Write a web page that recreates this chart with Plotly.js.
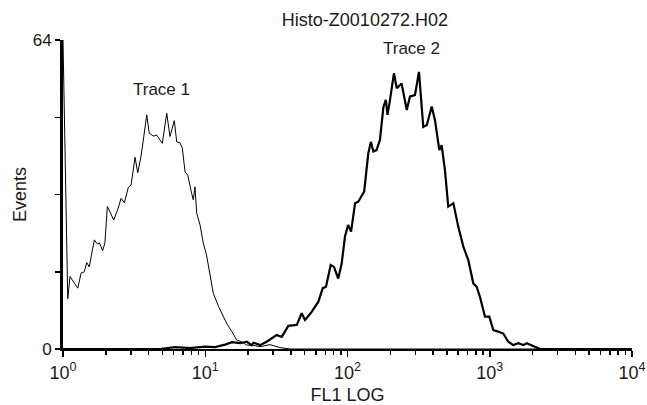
<!DOCTYPE html>
<html>
<head>
<meta charset="utf-8">
<script src="https://cdn.plot.ly/plotly-3.0.1.min.js"></script>
<style>
  html, body { margin: 0; padding: 0; background: #fff; }
  #chart { width: 647px; height: 405px; }
</style>
</head>
<body>
<div id="chart"></div>
<script>
// ---- Data ----
const trace1X = [1, 1.08, 1.12, 1.18, 1.27, 1.34, 1.41, 1.47, 1.53, 1.66, 1.75, 1.80, 1.90, 1.97, 2.05, 2.14, 2.27, 2.42, 2.56, 2.70, 2.88, 3.01, 3.21, 3.35, 3.53, 3.67, 3.88, 4.04, 4.31, 4.56, 4.81, 4.99, 5.36, 5.65, 6.06, 6.30, 6.64, 6.90, 7.21, 7.53, 8.03, 8.24, 8.47, 8.71, 9.19, 9.69, 10.2, 10.8, 11.4, 12.4, 13.1, 14.2, 15.4, 16.6, 18.0, 19.6, 21.2, 24.3, 28.5, 33.5, 39.4, 10000];
const trace1Y = [64, 10.4, 15.0, 13.9, 12.6, 15.7, 16.0, 17.9, 17.0, 22.6, 21.7, 22.0, 20.4, 21.9, 29.5, 28.4, 26.7, 28.8, 31.2, 30.3, 33.5, 34.0, 39.7, 36.5, 39.8, 43.3, 48.5, 44.7, 44.1, 44.3, 43.3, 42.6, 48.8, 44.0, 47.3, 42.9, 42.7, 41.6, 36.7, 36.0, 32.2, 30.9, 33.6, 28.1, 25.7, 21.9, 19.5, 15.7, 11.5, 8.8, 7.4, 5.2, 3.6, 1.9, 1.5, 0.8, 0.8, 0.5, 0.9, 0.3, 0, 0];

const trace2X = [1, 4.81, 6.13, 7.81, 9.96, 11.7, 13.8, 15.4, 17.6, 19.6, 21.2, 21.8, 24.3, 27.0, 31.8, 34.5, 38.4, 44.0, 47.6, 50.3, 56.0, 62.4, 67.0, 70.6, 76.2, 80.4, 86.1, 91.0, 96.0, 101, 106, 113, 119, 131, 140, 146, 152, 160, 169, 179, 186, 191, 199, 212, 222, 240, 261, 275, 298, 318, 341, 361, 391, 412, 442, 459, 484, 511, 555, 601, 652, 707, 766, 809, 853, 926, 993, 1059, 1148, 1245, 1349, 1465, 1588, 1722, 1820, 1972, 2256, 10000];
const trace2Y = [0, 0, 0.4, 0.2, 0.5, 0.4, 0.9, 1.4, 1.2, 1.5, 0.8, 1.3, 0.8, 1.5, 2.9, 2.5, 4.8, 5.0, 7.4, 6.0, 7.7, 9.8, 12.6, 12.9, 17.4, 17.0, 14.6, 17.7, 23.3, 25.7, 24.3, 30.2, 30.5, 32.6, 40.5, 42.9, 40.9, 41.2, 43.3, 50.2, 51.6, 48.5, 51.6, 57.1, 54.0, 55.0, 49.5, 52.3, 52.6, 57.4, 46.0, 46.4, 50.2, 47.4, 41.2, 42.2, 37.1, 29.5, 30.2, 25.3, 21.2, 18.4, 13.6, 12.9, 10.8, 6.7, 6.7, 3.9, 3.6, 3.2, 1.5, 0.8, 1.2, 0.8, 1.2, 0.8, 0, 0];

const xTickVals = [1, 10, 100, 1000, 10000];
const xTickText = ['10<sup>0</sup>', '10<sup>1</sup>', '10<sup>2</sup>', '10<sup>3</sup>', '10<sup>4</sup>'];
const yTickVals = [0, 16, 32, 48, 64];
const yTickText = ['0', '', '', '', '64'];

const chartTitle = 'Histo-Z0010272.H02';
const xTitle = 'FL1 LOG';
const yTitle = 'Events';
const label1 = 'Trace 1';
const label2 = 'Trace 2';

// ---- Chart ----
const FONT = '"Liberation Sans", Arial, Helvetica, sans-serif';
const INK = '#1a1a1a';

const traces = [
  { x: trace1X, y: trace1Y, type: 'scatter', mode: 'lines', name: label1,
    line: { color: '#000', width: 1 }, hoverinfo: 'skip' },
  { x: trace2X, y: trace2Y, type: 'scatter', mode: 'lines', name: label2,
    line: { color: '#000', width: 2.2 }, hoverinfo: 'skip' }
];

const layout = {
  width: 647, height: 405,
  margin: { l: 63, r: 15, t: 40, b: 56 },
  paper_bgcolor: '#fff', plot_bgcolor: '#fff',
  showlegend: false,
  font: { family: FONT, color: INK, size: 17 },
  title: { text: chartTitle, font: { family: FONT, size: 18, color: INK },
           x: 0.564, xanchor: 'center', xref: 'container', y: 0.952, yanchor: 'middle', yref: 'container' },
  xaxis: {
    type: 'log', range: [0, 4],
    tickmode: 'array', tickvals: xTickVals, ticktext: xTickText,
    ticks: 'outside', ticklen: 6, tickwidth: 1.5, tickcolor: '#000',
    minor: { dtick: 'D1', ticks: 'outside', ticklen: 4, tickwidth: 1.5, tickcolor: '#000', showgrid: false },
    showline: true, linewidth: 2, linecolor: '#000',
    showgrid: false, zeroline: false,
    tickfont: { family: FONT, size: 18, color: INK },
    title: { text: xTitle, font: { family: FONT, size: 18, color: INK }, standoff: 9 }
  },
  yaxis: {
    range: [0, 64],
    tickmode: 'array', tickvals: yTickVals, ticktext: yTickText,
    ticks: 'outside', ticklen: 5, tickwidth: 1.5, tickcolor: '#000',
    showline: true, linewidth: 3, linecolor: '#000',
    showgrid: false, zeroline: false,
    tickfont: { family: FONT, size: 17, color: INK },
    title: { text: yTitle, font: { family: FONT, size: 18, color: INK }, standoff: 2 }
  },
  annotations: [
    { x: 0.689, y: 53.8, xref: 'x', yref: 'y', text: label1, showarrow: false,
      font: { family: FONT, size: 17, color: INK } },
    { x: 2.447, y: 62.3, xref: 'x', yref: 'y', text: label2, showarrow: false,
      font: { family: FONT, size: 17, color: INK } }
  ]
};

Plotly.newPlot('chart', traces, layout, { staticPlot: true, displayModeBar: false });
</script>
</body>
</html>
